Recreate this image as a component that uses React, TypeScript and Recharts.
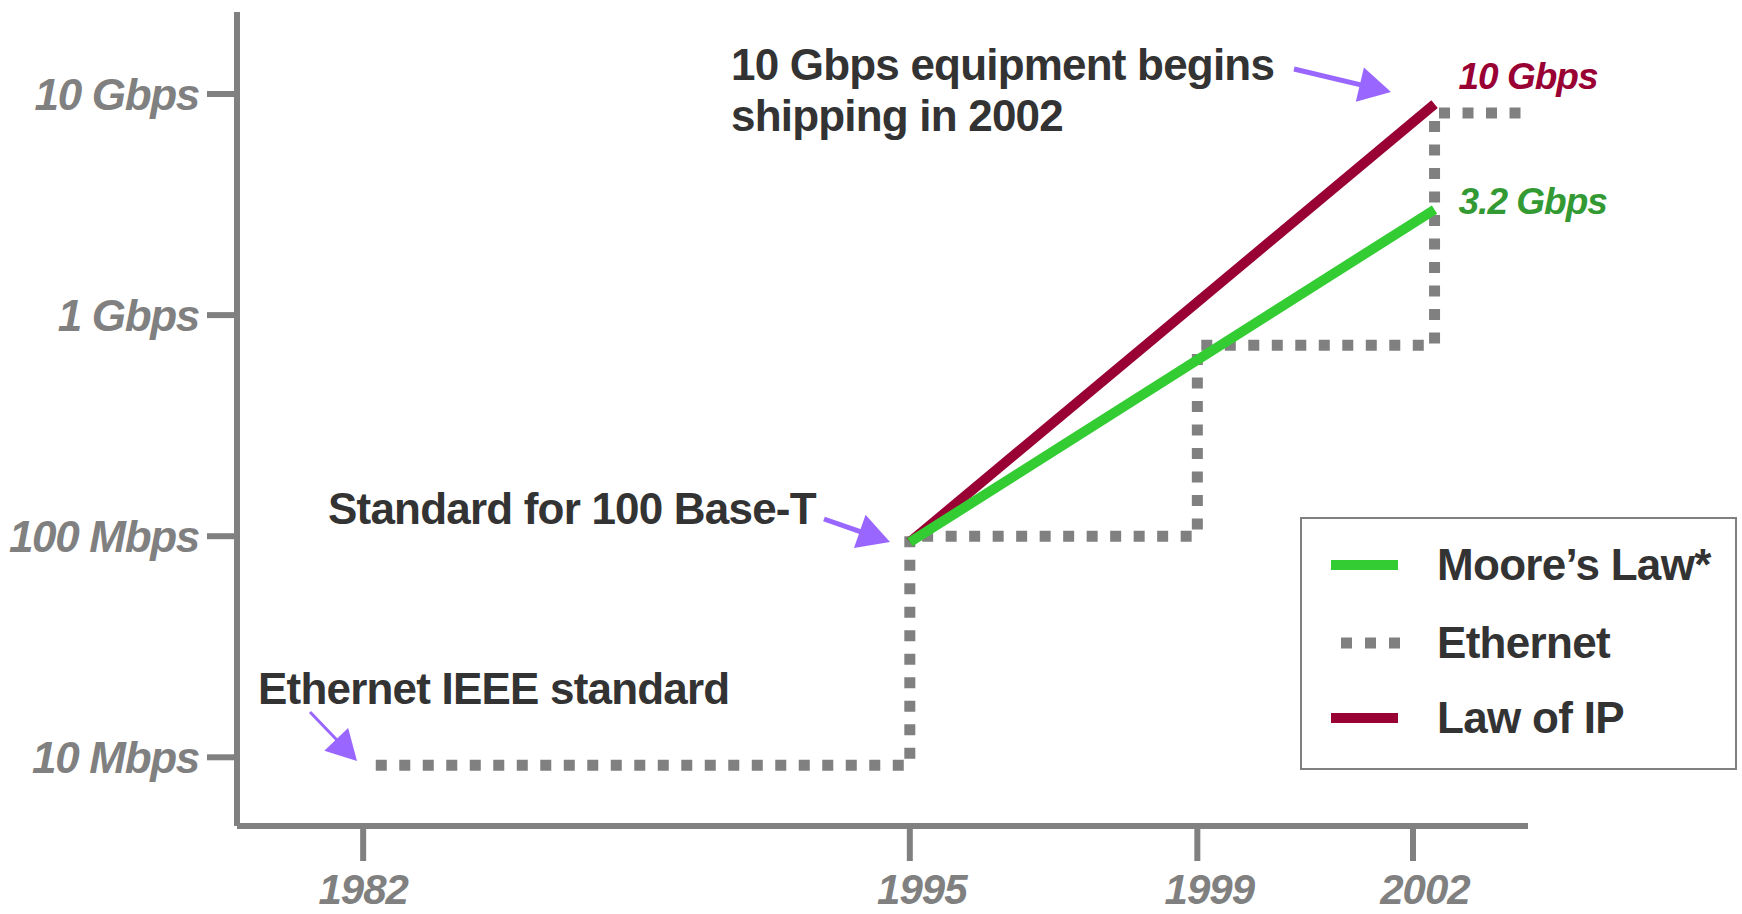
import { LineChart, Line, XAxis, YAxis, Legend } from 'recharts';

const WIDTH = 1742;
const HEIGHT = 914;
const FONT = '"Liberation Sans", Arial, sans-serif';

const GRAY = '#808080';
const INK = '#333333';
const ARROW = '#9966FF';
const RED = '#990033';
const GREEN = '#33CC33';
const GREEN_TEXT = '#339933';

// axis ticks
const yearTicks = [1982, 1995, 1999, 2002];
const rateTicks = [10, 100, 1000, 10000]; // Mbps
const rateLabels = ['10 Mbps', '100 Mbps', '1 Gbps', '10 Gbps'];

// Ethernet speeds (Mbps) as drawn, a step line
const ethernetYears = [1982.3, 1995, 1995, 1999, 1999, 2002.3, 2002.3, 2003.6];
const ethernetRates = [9.2, 9.2, 100, 100, 730, 730, 8200, 8200];

// both laws start from 100 Base-T in 1995
const mooreYears = [1995, 2002.3];
const mooreRates = [94, 3000];
const ipYears = [1995, 2002.3];
const ipRates = [94, 9000];

const MOORE = 'Moore\u2019s Law*';
const legendOrder = [MOORE, 'Ethernet', 'Law of IP'];

// the time axis is broken: 1982..1995 is squeezed into a shorter span
const SQUEEZE = 0.585;
const axisX = (year: number) => (year < 1995 ? 1995 - (1995 - year) * SQUEEZE : year);
const xDomain = [axisX(1979), 2003.6];
const xTicks = yearTicks.map(axisX);

const toPoints = (years: number[], rates: number[]) =>
  years.map((y, i) => ({ x: axisX(y), rate: rates[i] }));

const ethernet = toPoints(ethernetYears, ethernetRates);
const moore = toPoints(mooreYears, mooreRates);
const ip = toPoints(ipYears, ipRates);

function YTick({ x, y, payload }: any) {
  const i = rateTicks.indexOf(payload.value);
  return (
    <text x={x} y={y} dy="0.355em" textAnchor="end" fill={GRAY} fontSize={44}
      fontWeight="bold" fontStyle="italic" fontFamily={FONT} letterSpacing={-1.3}>
      {rateLabels[i]}
    </text>
  );
}

function XTick({ x, y, payload }: any) {
  let i = 0;
  xTicks.forEach((t, k) => {
    if (Math.abs(t - payload.value) < Math.abs(xTicks[i] - payload.value)) i = k;
  });
  return (
    <text x={x} y={y} dx={i === 0 ? 0 : 12} dy="0.71em" textAnchor="middle" fill={GRAY} fontSize={42}
      fontWeight="bold" fontStyle="italic" fontFamily={FONT} letterSpacing={-1}>
      {yearTicks[i]}
    </text>
  );
}

const endLabel = (text: string, color: string, count: number, dy: number) => (props: any) => {
  if (props.index !== count - 1) return null;
  const x = props.x ?? props.viewBox?.x;
  const y = props.y ?? props.viewBox?.y;
  return (
    <text x={x + 24} y={y + dy} fill={color} fontSize={37} fontWeight="bold"
      fontStyle="italic" fontFamily={FONT} letterSpacing={-1}>
      {text}
    </text>
  );
};

const rowCenters = [48, 126, 201];

function LegendBox({ payload }: any) {
  const items = [...(payload ?? [])].sort(
    (a, b) => legendOrder.indexOf(a.value) - legendOrder.indexOf(b.value)
  );
  return (
    <div style={{
      position: 'relative', width: 437, height: 253, boxSizing: 'border-box',
      border: `2px solid ${GRAY}`, background: '#fff', fontFamily: FONT,
    }}>
      {items.map((item: any, i: number) => {
        const dotted = item.value === 'Ethernet';
        return (
          <div key={item.value} style={{ position: 'absolute', left: 0, top: rowCenters[i] - 27, height: 50, width: 433 }}>
            <svg width={110} height={50} style={{ position: 'absolute', left: 0, top: 0 }}>
              {dotted ? (
                <line x1={39} y1={25} x2={98} y2={25} stroke={GRAY} strokeWidth={11} strokeDasharray="11 13" />
              ) : (
                <line x1={29} y1={25} x2={96} y2={25} stroke={item.color} strokeWidth={10} />
              )}
            </svg>
            <span style={{
              position: 'absolute', left: 135, top: 0, lineHeight: '50px', fontSize: 44,
              fontWeight: 'bold', color: INK, letterSpacing: -0.7, whiteSpace: 'nowrap',
            }}>
              {item.value}
            </span>
          </div>
        );
      })}
    </div>
  );
}

function Arrow({ from, to, width, head }: { from: number[]; to: number[]; width: number; head: number }) {
  const [x1, y1] = from;
  const [x2, y2] = to;
  const len = Math.hypot(x2 - x1, y2 - y1);
  const ux = (x2 - x1) / len;
  const uy = (y2 - y1) / len;
  const bx = x2 - ux * head;
  const by = y2 - uy * head;
  const hw = head * 0.55;
  const pts = `${x2},${y2} ${bx - uy * hw},${by + ux * hw} ${bx + uy * hw},${by - ux * hw}`;
  return (
    <g>
      <line x1={x1} y1={y1} x2={bx + ux * 2} y2={by + uy * 2} stroke={ARROW} strokeWidth={width} />
      <polygon points={pts} fill={ARROW} />
    </g>
  );
}

const noteStyle = {
  fill: INK, fontSize: 44, fontWeight: 'bold' as const, fontFamily: FONT, letterSpacing: -0.8,
};

export default function App() {
  return (
    <div style={{ position: 'absolute', left: 0, top: 0, width: WIDTH, height: HEIGHT, background: '#fff' }}>
      <LineChart width={WIDTH} height={HEIGHT} margin={{ top: 12, right: 214, bottom: 0, left: 0 }}>
        <XAxis
          dataKey="x"
          type="number"
          domain={xDomain}
          allowDataOverflow
          ticks={xTicks}
          height={88}
          tickSize={35}
          tickMargin={13}
          axisLine={{ stroke: GRAY, strokeWidth: 6 }}
          tickLine={{ stroke: GRAY, strokeWidth: 6 }}
          tick={<XTick />}
        />
        <YAxis
          dataKey="rate"
          type="number"
          scale="log"
          domain={[4.89, 23490]}
          allowDataOverflow
          ticks={rateTicks}
          width={237}
          tickSize={30}
          tickMargin={8}
          axisLine={{ stroke: GRAY, strokeWidth: 6 }}
          tickLine={{ stroke: GRAY, strokeWidth: 6 }}
          tick={<YTick />}
        />
        <Legend
          layout="vertical"
          align="center"
          verticalAlign="middle"
          content={<LegendBox />}
          wrapperStyle={{ position: 'absolute', left: 1300, top: 517, width: 437, height: 253 }}
        />
        <Line
          data={ethernet}
          dataKey="rate"
          name="Ethernet"
          type="linear"
          stroke={GRAY}
          strokeWidth={11}
          strokeDasharray="11 12.5"
          dot={false}
          isAnimationActive={false}
        />
        <Line
          data={ip}
          dataKey="rate"
          name="Law of IP"
          type="linear"
          stroke={RED}
          strokeWidth={10}
          dot={false}
          label={endLabel('10 Gbps', RED, ip.length, -15)}
          isAnimationActive={false}
        />
        <Line
          data={moore}
          dataKey="rate"
          name={MOORE}
          type="linear"
          stroke={GREEN}
          strokeWidth={10}
          dot={false}
          label={endLabel('3.2 Gbps', GREEN_TEXT, moore.length, 4)}
          isAnimationActive={false}
        />
      </LineChart>
      <svg width={WIDTH} height={HEIGHT} style={{ position: 'absolute', left: 0, top: 0, pointerEvents: 'none' }}>
        <text x={731} y={80} {...noteStyle}>10 Gbps equipment begins</text>
        <text x={731} y={131} {...noteStyle}>shipping in 2002</text>
        <text x={328} y={524} {...noteStyle}>Standard for 100 Base-T</text>
        <text x={258} y={704} {...noteStyle}>Ethernet IEEE standard</text>
        <Arrow from={[1294, 69]} to={[1391, 92]} width={5} head={32} />
        <Arrow from={[824, 519]} to={[890, 542]} width={5} head={32} />
        <Arrow from={[310, 712]} to={[357, 761]} width={3} head={30} />
      </svg>
    </div>
  );
}
